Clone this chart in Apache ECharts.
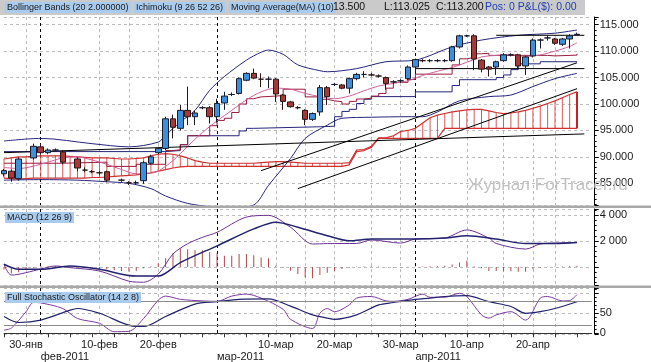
<!DOCTYPE html>
<html><head><meta charset="utf-8">
<script src="https://cdn.jsdelivr.net/npm/echarts@6/dist/echarts.min.js"></script>
<style>html,body{margin:0;padding:0;background:#fff}#c{width:651px;height:362px}</style>
</head><body><div id="c"></div>
<script>
// ---------- categories ----------
const dates = ['26-янв','27-янв','28-янв','30-янв','31-янв','01-фев','02-фев','03-фев','04-фев','06-фев',
'07-фев','08-фев','09-фев','10-фев','11-фев','13-фев','14-фев','15-фев','16-фев','17-фев',
'18-фев','20-фев','21-фев','22-фев','23-фев','24-фев','25-фев','27-фев','28-фев','01-мар',
'02-мар','03-мар','04-мар','06-мар','07-мар','08-мар','09-мар','10-мар','11-мар','13-мар',
'14-мар','15-мар','16-мар','17-мар','18-мар','20-мар','21-мар','22-мар','23-мар','24-мар',
'25-мар','27-мар','28-мар','29-мар','30-мар','31-мар','01-апр','03-апр','04-апр','05-апр',
'06-апр','07-апр','08-апр','10-апр','11-апр','12-апр','13-апр','14-апр','15-апр','17-апр',
'18-апр','19-апр','20-апр','21-апр','22-апр','24-апр','25-апр','26-апр','27-апр','28-апр','29-апр'];
const labelIdx = [3,13,21,37,45,54,63,72];
const gridIdx = [3,13,17,21,37,41,45,50,54,63,68,72,75];
const monthIdx = [5,29,56];
const monthNames = ['фев-2011','мар-2011','апр-2011'];
const tickIdx = [0,3,6,9,12,15,18,21,24,27,30,33,36,39,42,45,48,51,54,57,60,63,66,69,72,75,78];
const priceTicks = [85,90,95,100,105,110,115];

// ---------- price: [open, close, low, high] ----------
const E = ['-','-','-','-'];
const ohlc = [
[86.8,87.4,86.3,87.7],[87.3,86.0,85.3,87.6],[85.9,89.6,85.5,89.9],E,[89.8,92.0,89.5,92.5],
[91.9,90.8,90.4,92.5],[90.8,91.3,90.5,91.6],[91.3,91.3,91.0,91.6],[90.9,89.0,88.6,91.3],E,
[89.6,87.9,87.3,89.9],[87.5,87.5,87.1,88.0],[87.2,87.2,86.9,87.5],[87.0,87.0,86.6,87.3],[87.2,85.6,85.2,87.4],
E,[85.6,85.6,85.3,85.9],[85.1,85.1,84.7,85.4],[85.1,85.1,84.7,85.5],[85.5,88.9,84.9,89.2],
[88.8,90.0,88.5,90.4],[90.8,91.6,90.5,91.9],[91.6,97.2,91.3,97.6],[97.2,95.6,93.5,98.0],[95.4,98.8,95.0,99.8],
[98.8,97.6,96.0,103.3],[97.6,98.3,96.0,98.8],[99.3,99.3,99.0,99.6],[99.3,97.6,96.3,99.6],[97.6,100.1,96.5,101.0],
[100.2,101.5,98.9,102.3],[101.8,101.8,101.5,102.2],[102.0,104.8,101.8,105.0],[104.5,105.8,104.3,106.0],[105.8,104.9,104.7,106.7],
[104.7,104.7,103.2,105.8],[104.7,104.7,103.0,105.2],[104.7,101.9,100.4,104.9],[101.7,100.5,98.9,101.9],[100.4,99.5,99.3,100.6],
[99.3,99.3,99.0,99.6],[98.8,97.1,96.0,99.0],[97.1,98.2,96.8,98.4],[98.5,103.1,97.8,103.6],[103.1,101.4,99.8,103.4],
[103.7,103.7,103.4,104.0],[103.6,103.0,102.8,103.8],[103.0,104.8,102.0,105.0],[104.8,105.6,104.5,105.9],[105.6,105.6,105.0,106.2],
[105.5,105.5,105.2,105.9],[105.3,105.3,105.0,105.6],[105.0,103.9,102.7,105.2],[104.2,104.2,103.8,104.5],[104.4,104.4,104.0,104.7],
[104.8,107.0,104.5,107.3],[107.0,108.4,105.8,108.6],[108.2,108.2,107.9,108.5],[108.2,108.2,107.9,108.5],[108.2,108.2,107.9,108.5],
[108.2,108.2,107.9,108.5],[108.2,110.8,108.0,111.0],[110.8,112.9,110.5,113.1],[112.9,112.9,112.7,113.1],[112.9,108.5,106.4,113.2],
[108.3,106.6,106.0,108.5],[107.0,106.6,105.2,107.2],[107.0,108.0,105.5,108.2],[108.2,109.3,108.0,109.6],[109.3,109.3,109.0,109.6],
[109.3,107.2,106.6,109.5],[107.2,108.9,105.5,109.1],[109.1,112.1,108.8,112.4],[112.1,112.1,110.5,112.4],[112.5,112.5,112.0,113.0],
[112.3,111.5,111.2,112.5],[111.3,112.3,111.0,112.5],[112.3,112.9,110.5,113.2],[113.1,113.2,113.025,113.5]];
const lastClose = 113.2;

// ---------- overlays (index, value) ----------
const bbUpper = [[0,93.0],[5,93.5],[12,92.5],[17,91.9],[21,92.8],[22,94.1],[24,96.6],[26,98.8],[28,102.6],[30,105.2],[33,108.3],[35,109.8],[36,110.2],[38,109.4],[40,107.4],[43,106.3],[44,106.1],[48,106.7],[52,108.0],[56,108.3],[61,110.8],[65,112.1],[70,113.0],[75,113.4],[78,114.0]];
const bbLower = [[0,85.6],[5,85.7],[10,85.6],[14,85.3],[17,85.0],[20,84.0],[22,82.6],[25,81.2],[28,80.6],[31,80.4],[34,80.9],[36,84.6],[39,89.7],[41,93.5],[44,96.0],[46,97.3],[50,97.5],[55,97.6],[57,97.6],[59,98.5],[62,100.6],[66,101.4],[69,101.7],[72,103.3],[75,104.8],[78,105.8]];
const kijun = [[0,91.0],[22,91.2],[24,92.3],[25,94.0],[32,94.9],[33,95.4],[34,95.7],[43,95.8],[45,97.6],[46,98.6],[47,99.0],[48,100.1],[49,100.9],[50,101.4],[56,102.3],[61,103.5],[62,104.6],[67,105.0],[68,105.5],[69,106.5],[70,107.6],[73,108.0],[78,108.1]];
const tenkan = [[0,88.8],[8,89.0],[14,88.2],[18,88.6],[22,91.2],[23,91.35],[24,92.3],[25,94.0],[28,95.9],[29,96.9],[30,97.3],[31,98.4],[32,100.0],[33,101.0],[34,101.35],[35,101.5],[37,101.6],[38,102.8],[41,101.35],[43,100.9],[44,100.6],[45,100.45],[46,100.0],[47,100.5],[48,100.95],[49,101.1],[50,101.5],[51,102.0],[52,103.0],[53,104.1],[55,104.65],[56,105.65],[61,107.4],[62,108.55],[63,108.8],[64,109.5],[65,109.6],[66,109.2],[74,109.1],[75,109.25],[78,109.5]];
const ma10 = [[0,88.0],[2,87.8],[5,88.6],[8,89.8],[10,90.0],[12,89.4],[14,88.6],[16,87.6],[18,86.8],[20,86.9],[21,87.3],[23,89.3],[25,92.0],[27,94.6],[29,96.8],[31,98.8],[33,100.8],[35,102.3],[37,103.0],[39,102.8],[41,102.0],[43,101.4],[45,101.0],[47,101.5],[49,102.5],[51,103.4],[53,103.9],[55,104.4],[57,105.4],[59,106.2],[61,106.9],[63,107.9],[65,108.9],[67,109.2],[69,109.4],[71,109.0],[73,109.3],[75,110.0],[77,110.9],[78,111.6]];
const cloudTop = [89.6,89.8,90.0,90.0,90.1,90.2,90.2,90.2,90.2,90.1,90.0,89.9,89.8,89.8,89.8,89.7,89.6,89.6,89.7,89.8,
90.2,90.5,90.6,90.5,90.2,89.8,89.3,89.0,88.8,88.8,88.8,88.8,88.8,88.8,88.8,88.9,89.0,89.1,89.1,89.0,
88.9,88.8,88.8,88.8,88.8,88.8,88.8,88.9,91.3,91.4,92.0,93.6,93.6,94.0,94.8,95.0,95.4,96.4,97.4,97.9,
98.2,98.5,98.7,98.9,99.0,99.0,98.7,98.4,98.2,98.3,98.5,98.8,99.2,99.6,100.1,100.6,101.2,101.8,102.3];
const cloudBot = [86.0,85.9,85.8,85.9,86.0,86.0,86.0,86.0,86.0,86.0,86.0,86.0,86.1,86.1,86.2,86.3,86.4,86.5,86.6,86.8,
87.0,87.3,87.6,87.9,88.1,88.2,88.2,88.2,88.2,88.2,88.2,88.2,88.2,88.2,88.2,88.2,88.2,88.2,88.2,88.2,
88.2,88.2,88.2,88.2,88.2,88.2,88.2,88.5,91.0,91.2,91.8,93.5,93.5,93.5,93.5,93.5,93.5,93.5,93.5,93.5,
95.4,95.4,95.4,95.4,95.4,95.4,95.4,95.4,95.4,95.4,95.4,95.4,95.4,95.4,95.4,95.4,95.4,95.4,95.4];
const trendFlat = [[0,90.8],[79,94.35]];
const trendUpA = [[35,87.4],[78,107.8]];
const trendUpB = [[40,84.0],[78,102.9]];
const levelMid = [[56,106.7],[79,106.7]];
const levelTop = [[67,113.0],[79,113.0]];

// ---------- MACD ----------
const macdHist = [-0.2,-0.5,-0.4,-0.15,-0.05,0.05,0.08,0.08,0.05,0.03,0.0,-0.05,-0.1,-0.15,-0.2,-0.25,-0.3,-0.35,-0.3,-0.1,
0.05,0.28,0.67,1.05,1.44,1.36,1.28,1.28,1.15,1.05,0.87,0.87,1.0,1.0,0.9,0.74,0.67,0.1,-0.05,-0.28,
-0.54,-0.8,-0.87,-0.62,-0.45,-0.3,-0.15,-0.05,0.03,0.04,0.05,0.03,-0.03,-0.05,-0.03,0.02,0.04,0.04,0.05,0.06,
0.1,0.2,0.35,0.5,0.05,-0.1,-0.3,-0.3,-0.32,-0.32,-0.36,-0.36,-0.15,-0.05,0.02,0.03,0.04,0.05,0.0874];
const macdLine = [[0,0.21],[1,-0.62],[5,-0.16],[7,0.08],[9,-0.05],[13,-0.31],[17,-1.09],[19,-1.17],[21,-0.55],[23,1.0],[25,1.79],[27,2.28],[29,2.67],[33,3.84],[36,3.97],[39,3.06],[42,1.77],[44,1.8],[48,1.81],[50,2.08],[54,1.84],[56,2.15],[60,2.23],[63,2.85],[66,2.23],[67,1.81],[71,1.38],[73,1.77],[75,1.84],[78,1.89]];
const macdSignal = [[0,0.21],[2,-0.18],[5,-0.18],[9,0.08],[13,-0.18],[18,-0.7],[21,-0.7],[24,0.34],[29,1.63],[34,2.93],[37,3.45],[40,3.06],[44,2.41],[47,2.02],[50,2.15],[56,2.15],[60,2.23],[63,2.41],[67,2.15],[71,1.81],[75,1.81],[78,1.89]];
const macdLast = 0.0874;

// ---------- Stochastic ----------
const stochK = [[0,8],[1,13],[3,54],[4,77],[5,76],[8,62],[10,37],[13,25],[15,4],[17,5],[19,37],[21,83],[22,93],[24,85],[27,81],[29,80],[31,93],[33,98],[35,88],[38,60],[39,35],[42,12],[43,50],[44,62],[45,54],[47,71],[48,88],[50,92],[52,81],[53,80],[55,85],[57,98],[58,90],[60,90],[62,100],[63,92],[65,46],[66,38],[67,46],[69,54],[71,33],[73,88],[74,92],[76,81],[77,82],[78,96.63]];
const stochD = [[0,42],[2,27],[5,33],[9,58],[10,62],[13,50],[18,17],[19,17],[22,42],[26,73],[29,79],[32,85],[36,86],[39,68],[42,46],[44,38],[45,35],[48,46],[51,71],[53,77],[56,85],[58,88],[60,92],[63,94],[66,79],[69,67],[71,50],[73,54],[75,62],[78,79]];
const stochLast = 96.63;

// ---------- chart ----------
const FONT = 'Liberation Sans, Arial, sans-serif';
const NAVY = '#25257c', GRIDC = '#bcbcbc';
const G = [{top:17,height:188},{top:209,height:76},{top:288,height:46}].map(g=>({left:4,width:587.7,top:g.top,height:g.height}));
function xMain(gi, bottom){
  return {type:'category',gridIndex:gi,data:dates,boundaryGap:false,position:'bottom',
    axisLine:{show:bottom,lineStyle:{color:'#333'}},
    axisTick:{show:bottom,interval:(i)=>tickIdx.includes(i),length:4,lineStyle:{color:'#333'}},
    axisLabel:{show:bottom,interval:(i)=>labelIdx.includes(i),fontSize:11,color:'#1a1a1a',margin:5,fontFamily:FONT},
    splitLine:{show:true,interval:(i)=>gridIdx.includes(i),lineStyle:{color:GRIDC,type:[3,3],width:1}}};
}
function xMonth(gi, bottom){
  return {type:'category',gridIndex:gi,data:dates,boundaryGap:false,position:'bottom',offset:12,
    axisLine:{show:false},axisTick:{show:false},
    axisLabel:{show:bottom,interval:(i)=>monthIdx.includes(i),formatter:(v,i)=>monthNames[monthIdx.indexOf(i)]||'',
      align:'left',fontSize:11,color:'#1a1a1a',margin:5,fontFamily:FONT},
    splitLine:{show:true,interval:(i)=>monthIdx.includes(i),lineStyle:{color:'#000',type:[3,3],width:1}}};
}
function yAx(gi,min,max,split,fmt){
  return {type:'value',gridIndex:gi,position:'right',offset:3,min:min,max:max,splitNumber:split,
    axisLine:{show:true,lineStyle:{color:'#000'}},
    axisTick:{show:true,length:4,lineStyle:{color:'#000'}},
    minorTick:{show:true,splitNumber:5,length:2,lineStyle:{color:'#000'}},
    axisLabel:{formatter:fmt,fontSize:11,color:'#1a1a1a',margin:5,fontFamily:FONT,showMinLabel:true,showMaxLabel:true},
    splitLine:{show:true,lineStyle:{color:GRIDC,type:[3,3],width:1}}};
}
function ln(data,color,width,xi,yi,extra){
  return Object.assign({type:'line',data:data,xAxisIndex:xi,yAxisIndex:yi,symbol:'none',silent:true,
    lineStyle:{color:color,width:width},z:2},extra||{});
}
const lab = (text,left,top)=>({text:text,left:left,top:top,backgroundColor:'#a9cbee',padding:[1,2,1,2],
  textStyle:{fontSize:9,fontWeight:'normal',color:'#1a1a1a',fontFamily:FONT}});
const txt = (text,left,top,color,size)=>({text:text,left:left,top:top,padding:0,
  textStyle:{fontSize:size,fontWeight:'normal',color:color,fontFamily:FONT}});

const option = {
  animation:false,
  textStyle:{fontFamily:FONT},
  title:[
    txt('13.500',333,2,'#111',10.5), txt('L:113.025',384,2,'#111',10.5), txt('C:113.200',436,2,'#111',10.5),
    txt('Pos: 0 P&L($): 0.00',485,2,'#1f3fb3',10.5),
    lab('Bollinger Bands (20 2.000000)',5,2), lab('Ichimoku (9 26 52 26)',134,2), lab('Moving Average(MA) (10)',229,2),
    lab('MACD (12 26 9)',5,212), lab('Full Stochastic Oscillator (14 2 8)',5,292),
    txt('Журнал ForTracer.ru',468,177,'#c2c2c2',17)
  ],
  graphic:[
    {type:'rect',shape:{x:0,y:0,width:585,height:15},style:{fill:'#cacaca'},z:-10},
    {type:'rect',shape:{x:0,y:205.5,width:651,height:2.5},style:{fill:'#a8a8a8'},z:-10},
    {type:'rect',shape:{x:0,y:285.5,width:651,height:2.5},style:{fill:'#a8a8a8'},z:-10}
  ],
  grid:G,
  xAxis:[xMain(0,false),xMonth(0,false),xMain(1,false),xMonth(1,false),xMain(2,true),xMonth(2,true)],
  yAxis:[
    yAx(0,80.9,116.46,7,(v)=>priceTicks.includes(v)?v.toFixed(3):''),
    yAx(1,-1.3846,4.4615,3,(v)=>v===4?'4 000':(v===2?'2 000':'')),
    yAx(2,-1.75,113.25,2,(v)=>v===50?'50':(v===0?'0':''))
  ],
  series:[
    {type:'custom',xAxisIndex:0,yAxisIndex:0,silent:true,z:1,
     data:cloudTop.map((t,i)=>[i,t,cloudBot[i]]),encode:{x:0,y:[1,2]},
     renderItem:(params,api)=>{
       const a=api.coord([api.value(0),api.value(1)]), b=api.coord([api.value(0),api.value(2)]);
       const last = api.value(0)===cloudTop.length-1;
       return {type:'line',shape:{x1:a[0],y1:a[1],x2:b[0],y2:b[1]},style:{stroke:last?'#cc1f1f':'#d95858',lineWidth:last?2:1}};
     }},
    ln(cloudTop.map((v,i)=>[i,v]),'#d03030',1.2,0,0,{z:1}),
    ln(cloudBot.map((v,i)=>[i,v]),'#d03030',1.2,0,0,{z:1}),
    ln(bbUpper,NAVY,1,0,0,{smooth:0.3}),
    ln(bbLower,NAVY,1,0,0,{smooth:0.3}),
    ln(kijun,NAVY,1,0,0,{step:'end'}),
    ln(tenkan,'#9b1b3b',1,0,0,{step:'end'}),
    ln(ma10,'#d0609a',1,0,0,{smooth:0.3}),
    ln(trendFlat,'#000',1,0,0),
    ln(trendUpA,'#000',1,0,0),
    ln(trendUpB,'#000',1,0,0),
    ln(levelMid,'#000',1,0,0),
    ln(levelTop,'#000',1,0,0),
    {type:'candlestick',xAxisIndex:0,yAxisIndex:0,data:ohlc,barWidth:6,z:3,silent:true,
     itemStyle:{color:'#3b8fdb',color0:'#a83838',borderColor:'#1b1b2e',borderColor0:'#2b1515',borderWidth:1},
     markLine:{silent:true,symbol:'none',lineStyle:{opacity:0},
       label:{position:'end',distance:3,formatter:'{a|113.200}{b|}',
         rich:{a:{backgroundColor:'#fff',borderColor:'#000',borderWidth:1,padding:[2,3,1,3],fontSize:12,color:'#000',fontFamily:FONT},
               b:{backgroundColor:'#d6a6d8',width:10,height:16}}},
       data:[{yAxis:lastClose}]}},
    {type:'bar',xAxisIndex:2,yAxisIndex:1,data:macdHist,barWidth:1,silent:true,itemStyle:{color:'#b04848'},
     markLine:{silent:true,symbol:'none',lineStyle:{opacity:0},
       label:{position:'end',distance:3,formatter:'0.08740',backgroundColor:'#000',color:'#fff',padding:[3,2,2,2],fontSize:12,fontFamily:FONT},
       data:[{yAxis:macdLast}]}},
    ln(macdLine,'#6c3093',1,2,1,{smooth:0.3}),
    ln(macdSignal,'#22226e',1.5,2,1,{smooth:0.3}),
    ln(stochK,'#7d3aa0',1,4,2,{smooth:0.3,
      markLine:{silent:true,symbol:'none',lineStyle:{color:'#8a8a8a',type:'solid',width:1},label:{show:false},
        data:[{yAxis:80},{yAxis:20}]}}),
    ln(stochD,'#22226e',1.2,4,2,{smooth:0.3,
      markLine:{silent:true,symbol:'none',lineStyle:{opacity:0},
       label:{position:'end',distance:3,formatter:'96.63',backgroundColor:'#000',color:'#fff',padding:[1,1,0,1],fontSize:11,fontFamily:FONT},
       data:[{yAxis:stochLast}]}})
  ]
};
echarts.init(document.getElementById('c')).setOption(option);
</script></body></html>
